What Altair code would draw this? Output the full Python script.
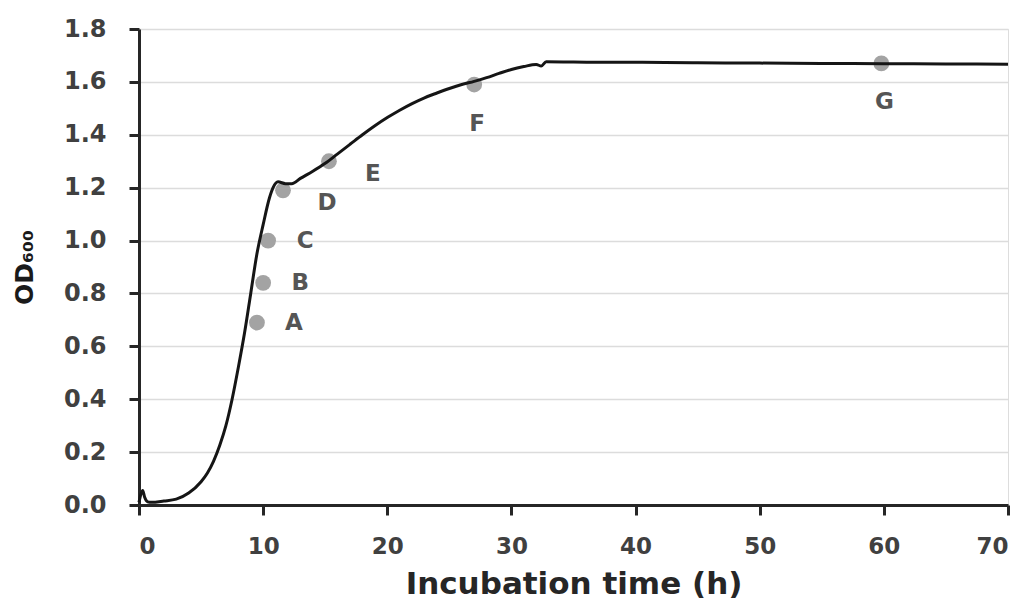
import altair as alt
import pandas as pd

# Growth curve
time_h = [0, 0.15, 0.3, 0.45, 0.7, 1, 2, 3, 4, 5, 5.5, 6, 6.5, 7, 7.5, 8, 8.5, 9, 9.5, 10,
          10.5, 10.8, 11.2, 11.8, 12.3, 13, 14, 15, 16, 17, 18, 19, 20, 21, 22, 23, 24, 25, 26, 27,
          28, 29, 30, 31, 32, 32.4, 32.8, 35, 40, 45, 50, 55, 60, 65, 70]
od600 = [0.01, 0.04, 0.055, 0.03, 0.012, 0.01, 0.015, 0.022, 0.045, 0.088, 0.12, 0.165, 0.225,
         0.3, 0.4, 0.52, 0.65, 0.8, 0.95, 1.06, 1.16, 1.2, 1.222, 1.215, 1.215, 1.235, 1.262,
         1.292, 1.328, 1.364, 1.4, 1.434, 1.465, 1.493, 1.518, 1.54, 1.558, 1.575, 1.59, 1.602,
         1.616, 1.632, 1.647, 1.658, 1.666, 1.66, 1.676, 1.675, 1.674, 1.672, 1.671, 1.67,
         1.669, 1.668, 1.667]

# Sampling points
sample_labels = ["A", "B", "C", "D", "E", "F", "G"]
sample_time = [9.5, 10.0, 10.4, 11.6, 15.3, 27.0, 59.8]
sample_od = [0.69, 0.84, 1.0, 1.19, 1.30, 1.59, 1.67]
label_side = ["right", "right", "right", "lower_right", "lower_right", "below", "below"]

x_ticks = [0, 10, 20, 30, 40, 50, 60, 70]
y_ticks = [0.0, 0.2, 0.4, 0.6, 0.8, 1.0, 1.2, 1.4, 1.6, 1.8]

curve = pd.DataFrame({"t": time_h, "od": od600})
samples = pd.DataFrame({"t": sample_time, "od": sample_od, "label": sample_labels, "side": label_side})

AX = "#262626"
FONT = "DejaVu Sans"

x_enc = alt.X(
    "t:Q",
    scale=alt.Scale(domain=[0, 70], nice=False, zero=True),
    axis=alt.Axis(
        values=x_ticks, format="d", grid=False,
        title="Incubation time (h)", titleFont=FONT, titleFontSize=31, titleFontWeight="bold",
        titleColor=AX, titlePadding=11,
        labelFont=FONT, labelFontSize=23, labelFontWeight="bold", labelColor="#404040",
        labelPadding=20, domainColor=AX, domainWidth=3, tickColor=AX, tickWidth=3, tickSize=10,
    ),
)
y_enc = alt.Y(
    "od:Q",
    scale=alt.Scale(domain=[0, 1.8], nice=False),
    axis=alt.Axis(
        values=y_ticks, format=".1f", grid=True, gridColor="#dcdcdc", gridWidth=1.5,
        title="OD₆₀₀", titleFont=FONT, titleFontSize=25, titleFontWeight="bold",
        titleColor="#1a1a1a", titlePadding=26,
        labelFont=FONT, labelFontSize=24, labelFontWeight="bold", labelColor="#404040",
        labelPadding=23, domainColor=AX, domainWidth=3, tickColor=AX, tickWidth=3, tickSize=10,
    ),
)

points = alt.Chart(samples).mark_circle(size=250, color="#a3a3a3", opacity=1).encode(x=x_enc, y=y_enc)

line = alt.Chart(curve).mark_line(color="#151515", strokeWidth=3, interpolate="monotone").encode(
    x="t:Q", y="od:Q"
)

def labels(side, dx, dy):
    return alt.Chart(samples).transform_filter(alt.datum.side == side).mark_text(
        font=FONT, fontSize=23, fontWeight="bold", color="#555555", dx=dx, dy=dy,
        align="center", baseline="middle",
    ).encode(x="t:Q", y="od:Q", text="label:N")

chart = alt.layer(
    points, line,
    labels("right", 37, 0),
    labels("lower_right", 44, 13),
    labels("below", 3, 39),
).properties(
    width=869, height=476,
    autosize=alt.AutoSizeParams(type="none"),
    padding={"left": 131, "top": 21, "right": 14, "bottom": 95},
).configure_view(stroke=None).configure(background="white")

chart.save("out.html", embed_options={"renderer": "svg", "actions": False})
